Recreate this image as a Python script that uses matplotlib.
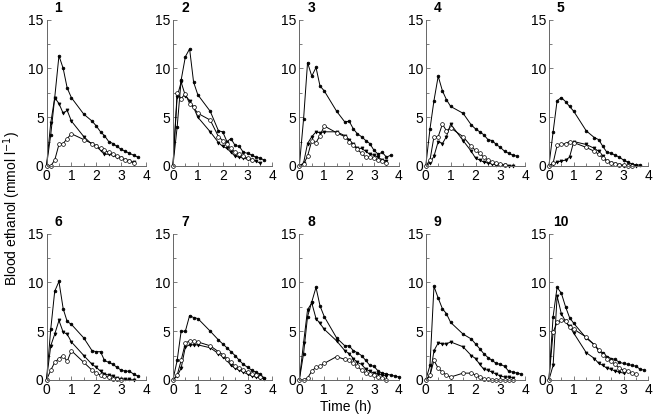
import matplotlib
matplotlib.use('Agg')
import matplotlib.pyplot as plt
from matplotlib.ticker import MultipleLocator

plt.rcParams['font.family'] = ['Liberation Sans', 'DejaVu Sans']

# sampling times (h)
times = [0, 0.17, 0.33, 0.5, 0.67, 0.83, 1.0, 1.5, 1.83, 2.0, 2.17, 2.33,
         2.5, 2.67, 2.83, 3.0, 3.17, 3.33, 3.5, 3.67, 3.83, 4.0]

panel_ids = ['1', '2', '3', '4', '5', '6', '7', '8', '9', '10']

# filled circles
high = [
    [0, 3.2, 7.0, 11.3, 10.0, 8.0, 7.0, 5.3, 4.6, 4.1, 3.5, 3.1, 2.5, 2.3, 2.0, 1.7, 1.5, 1.3, 1.1, 0.9],
    [0, 4.0, 8.8, 11.2, 12.0, 8.6, 7.3, 5.6, 3.6, 3.5, 2.5, 2.8, 2.1, 2.0, 1.4, 1.3, 1.1, 0.9, 0.8, 0.6],
    [0, 4.8, 10.6, 9.2, 10.1, 8.2, 7.7, 5.6, 4.5, 4.6, 3.8, 3.3, 3.0, 2.6, 2.3, 1.6, 1.2, 1.4, 0.9, 1.1],
    [0, 3.8, 6.7, 9.2, 7.7, 6.8, 6.1, 5.4, 4.2, 3.8, 3.5, 3.2, 2.7, 2.6, 2.2, 1.9, 1.5, 1.3, 1.1, 1.0],
    [0, 3.5, 6.7, 7.0, 6.6, 6.1, 5.6, 3.6, 2.9, 2.7, 2.0, 1.4, 1.3, 1.1, 0.9, 0.6, 0.4, 0.2, 0.1, 0.1],
    [0, 5.2, 9.1, 10.1, 7.3, 6.0, 5.7, 4.3, 3.0, 2.9, 2.9, 2.0, 1.8, 1.6, 1.3, 1.0, 0.9, 0.9, 0.6, 0.4],
    [0, 2.0, 5.0, 5.0, 6.6, 6.4, 6.3, 5.0, 4.1, 3.7, 3.3, 2.9, 2.5, 2.0, 1.6, 1.3, 1.0, 0.8, 0.6, 0.2],
    [0, 2.7, 6.5, 8.0, 9.5, 7.6, 6.5, 4.3, 3.5, 3.5, 3.0, 2.8, 2.5, 2.0, 1.5, 1.4, 0.9, 0.7, 0.6, 0.5, 0.4, 0.3],
    [0, 1.5, 9.6, 8.4, 7.3, 6.8, 5.9, 4.7, 4.2, 3.7, 3.2, 2.7, 2.3, 2.0, 1.7, 1.6, 1.4, 0.9, 0.8, 0.7, 0.6],
    [0, 6.5, 9.5, 8.9, 7.5, 6.4, 5.8, 4.3, 3.6, 3.0, 2.8, 2.4, 2.2, 2.1, 1.8, 1.7, 1.6, 1.5, 1.4, 1.1, 1.0],
]

# filled triangles
mid = [
    [0, 4.4, 7.0, 6.4, 5.4, 5.7, 4.6, 3.0, 2.2, 2.0, 1.6, 1.2, 1.2, 1.1, 0.9, 0.8, 0.6, 0.5, 0.4],
    [0, 7.1, 8.6, 7.2, 6.7, 6.0, 5.0, 3.5, 2.4, 2.0, 1.8, 1.4, 1.0, 0.9, 0.8, 0.7, 0.6, 0.5, 0.3],
    [0, 0.3, 2.3, 3.0, 3.5, 3.4, 3.5, 3.5, 3.1, 2.7, 2.2, 1.8, 1.8, 1.5, 1.2, 1.1, 0.9, 0.6, 0.5],
    [0, 0.3, 1.0, 2.5, 2.3, 3.0, 4.3, 2.6, 1.5, 0.8, 0.6, 0.4, 0.3, 0.2, 0.1, 0.1, 0.05, 0.0, 0.0],
    [0, 0.2, 0.4, 0.5, 0.6, 0.9, 2.5, 2.2, 1.8, 1.5, 1.0, 0.5, 0.3, 0.2, 0.1, 0.0, 0.0, 0.0, 0.0],
    [0, 3.5, 4.7, 6.1, 4.9, 4.7, 3.9, 2.5, 1.6, 1.3, 0.9, 0.6, 0.5, 0.4, 0.2, 0.1, 0.1, 0.05, 0.0],
    [0, 0.4, 1.2, 3.4, 3.6, 3.6, 3.6, 3.3, 2.7, 2.4, 2.0, 1.5, 1.2, 1.0, 0.8, 0.6, 0.4, 0.3, 0.2, 0.1],
    [0, 3.8, 7.2, 7.9, 6.3, 5.8, 5.2, 4.0, 3.0, 2.7, 2.2, 1.8, 1.6, 1.1, 0.9, 0.7, 0.6, 0.5, 0.4],
    [0, 0.4, 3.0, 3.8, 3.7, 3.7, 3.9, 3.4, 2.5, 2.2, 1.6, 1.1, 1.0, 0.8, 0.6, 0.4, 0.3, 0.3, 0.2],
    [0, 1.5, 8.6, 6.8, 6.0, 5.5, 4.8, 2.8, 2.2, 1.7, 1.5, 1.2, 1.1, 0.9, 0.8, 0.7],
]

# open circles
low = [
    [0, 0.0, 0.6, 2.2, 2.3, 2.8, 3.3, 2.7, 2.3, 2.0, 1.8, 1.6, 1.4, 1.2, 1.0, 0.8, 0.6, 0.5, 0.3],
    [0, 7.5, 6.9, 7.4, 6.4, 6.0, 5.4, 4.7, 3.0, 2.6, 2.2, 1.8, 1.4, 1.2, 1.0, 0.8, 0.6],
    [0, 0.2, 1.0, 2.6, 2.4, 3.1, 4.1, 3.4, 3.0, 2.5, 2.1, 1.7, 1.3, 0.9, 0.9, 0.8, 0.6, 0.5, 0.3],
    [0, 0.6, 3.0, 3.0, 4.3, 3.6, 3.9, 3.0, 2.0, 1.6, 1.3, 0.9, 0.6, 0.4, 0.3, 0.2, 0.1],
    [0, 0.3, 2.1, 2.2, 2.3, 2.5, 2.4, 1.9, 1.5, 1.2, 0.8, 0.5, 0.3, 0.2, 0.1, 0.1, 0.0, 0.0],
    [0, 1.0, 1.8, 2.2, 2.5, 1.9, 3.0, 1.8, 1.0, 0.7, 0.5, 0.4, 0.3, 0.1, 0.1, 0.0],
    [0, 0.5, 2.0, 3.8, 4.0, 4.0, 3.9, 3.5, 2.9, 2.6, 2.2, 1.8, 1.4, 1.2, 1.0, 0.8, 0.6, 0.5, 0.3],
    [0, 0.0, 0.2, 0.9, 1.3, 1.4, 1.7, 2.4, 2.1, 2.0, 1.7, 1.4, 1.0, 0.7, 0.6, 0.5, 0.3, 0.2, 0.0],
    [0, 0.5, 2.0, 1.2, 0.8, 0.5, 0.3, 0.7, 0.7, 0.5, 0.3, 0.1, 0.05, 0.0, 0.0, 0.0, 0.0, 0.0, 0.0],
    [0, 4.9, 5.9, 6.1, 6.0, 5.4, 5.2, 4.4, 3.6, 3.1, 2.6, 2.2, 1.9, 1.6, 1.2, 1.0, 0.9, 0.7, 0.6],
]

fig = plt.figure(figsize=(6.55, 4.18), dpi=100)

axis_col = '#666666'
lefts = [0.071, 0.264, 0.457, 0.650, 0.838]
bottoms = [0.603, 0.091]
w, h = 0.152, 0.350

for i in range(10):
    row, col = divmod(i, 5)
    ax = fig.add_axes([lefts[col], bottoms[row], w, h])
    for vals, mk, fc, ms in [(high[i], 'o', 'black', 2.0),
                             (mid[i], 'v', 'black', 2.2),
                             (low[i], 'o', 'white', 2.7)]:
        ax.plot(times[:len(vals)], vals, color='black', lw=0.7, marker=mk,
                markersize=ms, markerfacecolor=fc, markeredgecolor='black',
                markeredgewidth=0.5, clip_on=False)
    ax.set_xlim(0, 4)
    ax.set_ylim(0, 15)
    ax.xaxis.set_major_locator(MultipleLocator(1))
    ax.xaxis.set_minor_locator(MultipleLocator(0.5))
    ax.yaxis.set_major_locator(MultipleLocator(5))
    ax.yaxis.set_minor_locator(MultipleLocator(2.5))
    ax.tick_params(which='both', direction='in', color=axis_col, width=0.6)
    ax.tick_params(which='major', length=3, labelsize=10, pad=2)
    ax.tick_params(which='minor', length=2)
    for s in ['top', 'right']:
        ax.spines[s].set_visible(False)
    for s in ['left', 'bottom']:
        ax.spines[s].set_color(axis_col)
        ax.spines[s].set_linewidth(0.7)
    ax.text(0.12, 1.03, panel_ids[i], transform=ax.transAxes, fontsize=10,
            fontweight='bold', ha='center', va='bottom')

fig.text(0.018, 0.5, 'Blood ethanol (mmol l$^{-1}$)', rotation=90,
         ha='center', va='center', fontsize=10)
fig.text(0.528, 0.026, 'Time (h)', ha='center', va='center', fontsize=10)

fig.savefig('out.png', dpi=100)
